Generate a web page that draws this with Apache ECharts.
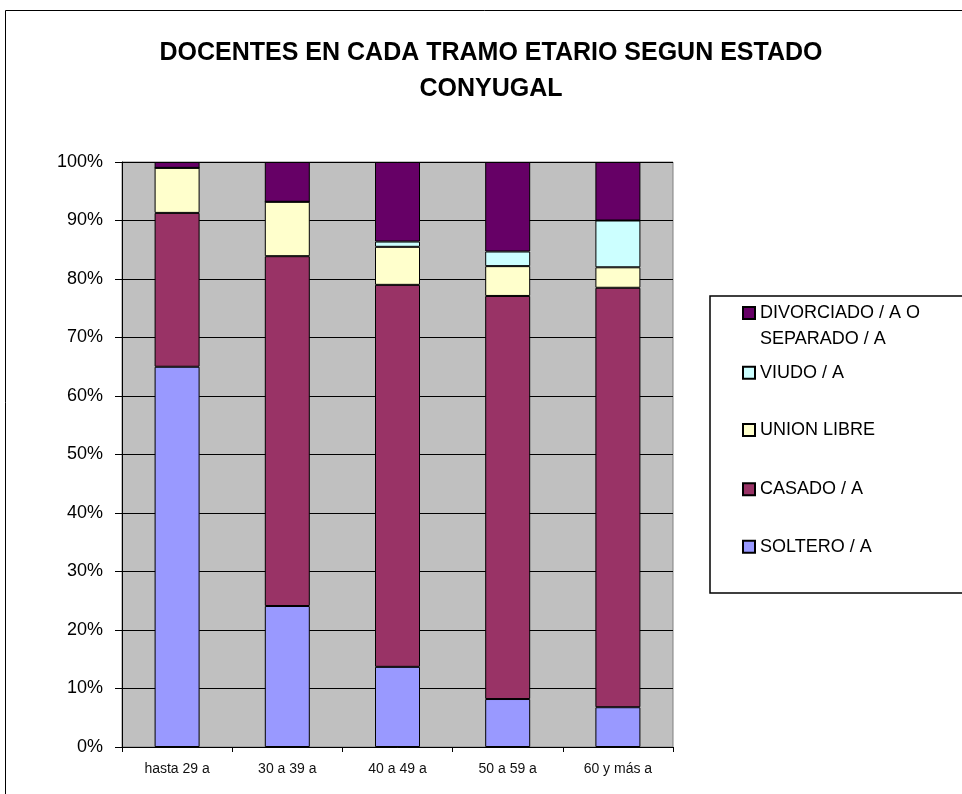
<!DOCTYPE html>
<head>
    <meta charset="utf-8">
    <title>Docentes por tramo etario</title>
    <script src="https://cdn.jsdelivr.net/npm/echarts@6/dist/echarts.min.js"></script>
    <style>
        body { margin: 0; background: #fff; }
    </style>
</head>
<body>
    <div id="main" style="width: 962px;height:794px"></div>
    <script type="text/javascript">
        // datos (porcentajes por tramo)
        var categorias = ['hasta 29 a', '30 a 39 a', '40 a 49 a', '50 a 59 a', '60 y más a'];
        var soltero    = [65.0, 24.1, 13.7, 8.2, 6.8];
        var casado     = [26.3, 59.8, 65.3, 68.9, 71.7];
        var unionLibre = [7.7, 9.3, 6.5, 5.1, 3.5];
        var viudo      = [0, 0, 0.9, 2.5, 8.0];
        var divorciado = [1.0, 6.8, 13.6, 15.3, 10.0];
        var nombres = ['SOLTERO / A', 'CASADO / A', 'UNION LIBRE', 'VIUDO / A', 'DIVORCIADO / A O SEPARADO / A'];
        var colores = ['#9999FF', '#993366', '#FFFFCC', '#CCFFFF', '#660066'];
        var valores = [soltero, casado, unionLibre, viudo, divorciado];

        var fuente = 'Liberation Sans, Arial, sans-serif';
        var myChart = echarts.init(document.getElementById('main'));

        var series = [];
        for (var i = 0; i < valores.length; i++) {
            series.push({
                name: nombres[i],
                type: 'bar',
                stack: 'total',
                barWidth: 45,
                data: valores[i],
                itemStyle: {
                    color: colores[i],
                    borderColor: '#000',
                    borderWidth: 1
                }
            });
        }

        // leyenda: una por entrada para fijar la posicion vertical
        var centrosLeyenda = [546.7, 489.3, 430, 372.7, 313];
        var leyendas = [];
        for (var j = 0; j < nombres.length; j++) {
            var esDiv = (j == 4);
            leyendas.push({
                data: [nombres[j]],
                left: 742,
                top: esDiv ? centrosLeyenda[j] - 39 : centrosLeyenda[j] - 13,
                padding: 0,
                itemWidth: 12,
                itemHeight: 12,
                icon: 'rect',
                selectedMode: false,
                formatter: esDiv ? function () { return ' \nDIVORCIADO / A O\nSEPARADO / A'; } : '{name}',
                textStyle: { fontFamily: fuente, fontSize: 18, color: '#000', lineHeight: 26 }
            });
        }

        var option = {
            animation: false,
            backgroundColor: '#fff',
            title: {
                text: 'DOCENTES EN CADA TRAMO ETARIO SEGUN ESTADO\nCONYUGAL',
                left: 491,
                top: 35,
                padding: 0,
                textAlign: 'center',
                textStyle: { fontFamily: fuente, fontSize: 25, fontWeight: 'bold', color: '#000', lineHeight: 36 }
            },
            legend: leyendas,
            grid: {
                left: 122,
                right: 289,
                top: 162,
                bottom: 47,
                show: true,
                backgroundColor: '#C0C0C0',
                borderColor: '#808080',
                borderWidth: 1
            },
            xAxis: {
                type: 'category',
                data: categorias,
                axisLine: { lineStyle: { color: '#000', width: 1 } },
                axisTick: { show: true, length: 5, lineStyle: { color: '#000' } },
                axisLabel: { fontFamily: fuente, fontSize: 14, color: '#111', margin: 15 }
            },
            yAxis: {
                type: 'value',
                min: 0,
                max: 100,
                interval: 10,
                axisLine: { show: true, lineStyle: { color: '#000', width: 1 } },
                axisTick: { show: true, length: 7, lineStyle: { color: '#000' } },
                axisLabel: { formatter: '{value}%', fontFamily: fuente, fontSize: 18, color: '#000', margin: 19 },
                splitLine: { lineStyle: { color: '#000', width: 1 } }
            },
            graphic: [
                {
                    type: 'rect',
                    shape: { x: 5.5, y: 10.5, width: 1000, height: 1000 },
                    style: { fill: 'none', stroke: '#000', lineWidth: 1 },
                    silent: true
                },
                {
                    type: 'rect',
                    shape: { x: 710, y: 296, width: 300, height: 297 },
                    style: { fill: 'none', stroke: '#000', lineWidth: 1.5 },
                    silent: true
                }
            ],
            series: series
        };
        myChart.setOption(option);
    </script>
</body>
